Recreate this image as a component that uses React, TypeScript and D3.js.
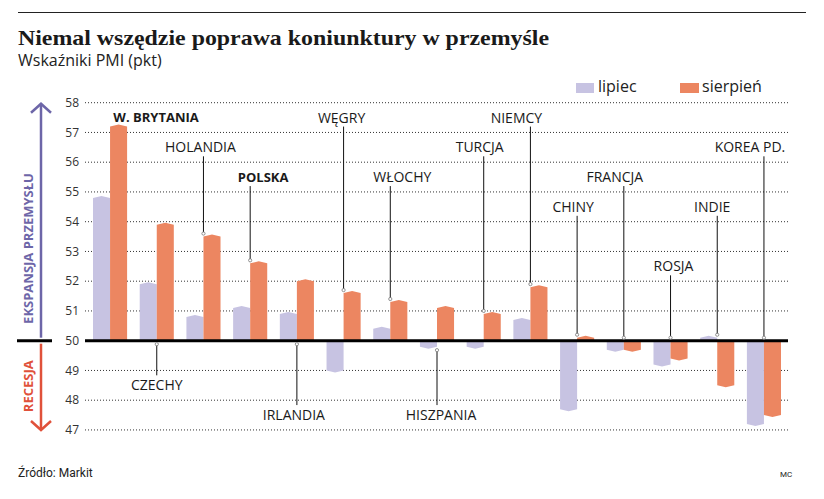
import * as d3 from 'd3';

const countries = ['W. BRYTANIA', 'CZECHY', 'HOLANDIA', 'POLSKA', 'IRLANDIA', 'WĘGRY', 'WŁOCHY', 'HISZPANIA', 'TURCJA', 'NIEMCY', 'CHINY', 'FRANCJA', 'ROSJA', 'INDIE', 'KOREA PD.'];
const lipiec = [54.8, 51.9, 50.8, 51.1, 50.9, 49.0, 50.4, 49.8, 49.8, 50.7, 47.7, 49.7, 49.2, 50.1, 47.2];
const sierpien = [57.2, 53.9, 53.5, 52.6, 52.0, 51.6, 51.3, 51.1, 50.9, 51.8, 50.1, 49.7, 49.4, 48.5, 47.5];
const yTicks = [47, 48, 49, 50, 51, 52, 53, 54, 55, 56, 57, 58];

// label placement (value level of the label, horizontal nudge, leader line, bold)
const labelLevel = [57.5, 48.5, 56.5, 55.5, 47.5, 57.5, 55.5, 47.5, 56.5, 57.5, 54.5, 55.5, 52.5, 54.5, 56.5];
const labelDx = [46, 0, -3, 13, -3, -2, 12, 4, -4, -14, -4, -9, 3, -5, -14];
const hasLeader = [false, true, true, true, true, true, true, true, true, true, true, true, true, true, true];
const isBold = [true, false, false, true, false, false, false, false, false, false, false, false, false, false, false];

const W = 824;
const H = 499;
const LILAC = '#c7c3e2';
const ORANGE = '#ec8661';
const PURPLE = '#6d66a8';
const RED = '#e0513a';

const series = [
  { key: 'lipiec', values: lipiec, color: LILAC },
  { key: 'sierpien', values: sierpien, color: ORANGE },
];

function barPath(x0: number, x1: number, yBase: number, yVal: number) {
  const dir = yVal < yBase ? -1 : 1;
  const cap = Math.min(2, Math.abs(yVal - yBase));
  const xc = (x0 + x1) / 2;
  return `M${x0},${yBase}L${x0},${yVal}L${xc},${yVal + dir * cap}L${x1},${yVal}L${x1},${yBase}Z`;
}

export default function App() {
  const y = d3.scaleLinear().domain([50, 58]).range([340.7, 102.7]);
  const x = d3.scaleBand<string>().domain(countries).range([86, 788]).paddingInner(0.27).paddingOuter(0.15);
  const x1 = d3.scaleBand<string>().domain(series.map((s) => s.key)).range([0, x.bandwidth()]);
  const y0 = y(50);
  const font = "'Open Sans', sans-serif";

  return (
    <svg width={W} height={H} style={{ position: 'absolute', left: 0, top: 0, background: '#fff' }}>
      <line x1={18} x2={806} y1={12.5} y2={12.5} stroke="#222" strokeWidth={1} />
      <text x={18} y={45} fontFamily="'Liberation Serif', serif" fontWeight="bold" fontSize={21} fill="#1a1a1a" textLength={531} lengthAdjust="spacingAndGlyphs">
        Niemal wszędzie poprawa koniunktury w przemyśle
      </text>
      <text x={18} y={66} fontFamily={font} fontSize={16} fill="#222">
        Wskaźniki PMI (pkt)
      </text>

      {/* legend */}
      <rect x={576} y={83} width={18} height={10} fill={LILAC} />
      <text x={598} y={92} fontFamily={font} fontSize={16} fill="#222">lipiec</text>
      <rect x={680} y={83} width={19} height={10} fill={ORANGE} />
      <text x={702} y={92} fontFamily={font} fontSize={16} fill="#222">sierpień</text>

      {/* grid + y labels */}
      {yTicks.map((t) => (
        <g key={t}>
          <line x1={85} x2={788} y1={y(t)} y2={y(t)} stroke="#333" strokeWidth={1} strokeDasharray="1 2" />
          <text x={79} y={y(t)} dy="0.35em" textAnchor="end" fontFamily={font} fontSize={12} fill="#333">{t}</text>
        </g>
      ))}

      {/* bars */}
      {countries.map((c, i) => (
        <g key={c} transform={`translate(${x(c)},0)`}>
          {series.map((s) => {
            const bx = x1(s.key)!;
            return <path key={s.key} d={barPath(bx, bx + x1.bandwidth(), y0, y(s.values[i]))} fill={s.color} />;
          })}
        </g>
      ))}

      {/* baseline */}
      <line x1={85} x2={788} y1={y0} y2={y0} stroke="#000" strokeWidth={3} />
      <line x1={17} x2={52} y1={y0} y2={y0} stroke="#000" strokeWidth={3} />

      {/* labels */}
      {countries.map((c, i) => {
        const cx = x(c)! + x.bandwidth() / 2;
        const ly = y(labelLevel[i]);
        const above = labelLevel[i] > 50;
        const top = Math.max(lipiec[i], sierpien[i], 50);
        const bot = Math.min(lipiec[i], sierpien[i], 50);
        const dotY = above ? y(top) - 3 : y(bot) + 3.5;
        const lineStart = above ? ly + 9 : ly - 10;
        return (
          <g key={c}>
            {hasLeader[i] && (
              <>
                <line x1={cx} x2={cx} y1={lineStart} y2={dotY} stroke="#111" strokeWidth={1} />
                <circle cx={cx} cy={dotY} r={1.6} fill="#fff" stroke="#777" strokeWidth={0.8} />
              </>
            )}
            <text x={cx + labelDx[i]} y={ly} dy="0.36em" textAnchor="middle" fontFamily={font} fontSize={isBold[i] ? 13 : 14} fontWeight={isBold[i] ? 'bold' : 'normal'} fill="#1a1a1a">
              {c}
            </text>
          </g>
        );
      })}

      {/* side arrows */}
      <line x1={41} x2={41} y1={y0 - 3} y2={y(58) + 1} stroke={PURPLE} strokeWidth={2.5} />
      <polyline points={`31,${y(58) + 10} 41,${y(58) + 1} 51,${y(58) + 10}`} fill="none" stroke={PURPLE} strokeWidth={2.5} />
      <line x1={41} x2={41} y1={y0 + 3} y2={y(47)} stroke={RED} strokeWidth={2.5} />
      <polyline points={`31,${y(47) - 9} 41,${y(47)} 51,${y(47) - 9}`} fill="none" stroke={RED} strokeWidth={2.5} />
      <text transform={`translate(33,${y(53.1)}) rotate(-90)`} textAnchor="middle" fontFamily={font} fontWeight="bold" fontSize={13} fill={PURPLE}>
        EKSPANSJA PRZEMYSŁU
      </text>
      <text transform={`translate(33,${y(48.47)}) rotate(-90)`} textAnchor="middle" fontFamily={font} fontWeight="bold" fontSize={13} fill={RED}>
        RECESJA
      </text>

      {/* footer */}
      <text x={18} y={477} fontFamily="Roboto, sans-serif" fontSize={12} fill="#222">Źródło: Markit</text>
      <text x={780} y={477} fontFamily="Roboto, sans-serif" fontSize={8} fill="#222">MC</text>
    </svg>
  );
}
